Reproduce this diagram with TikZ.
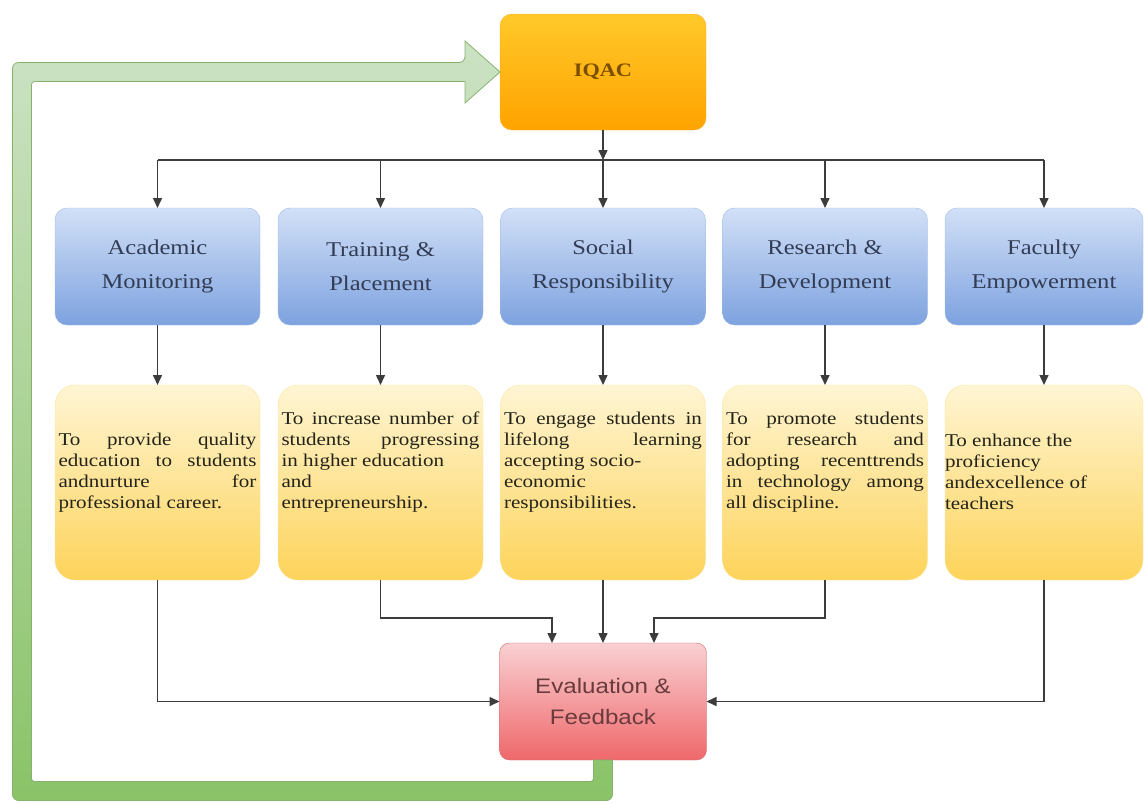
\documentclass[tikz,border=0pt]{standalone}
\usepackage{fontspec}
\usetikzlibrary{arrows.meta,calc}
\setmainfont{Liberation Serif}
\newfontfamily\boxfont[FakeStretch=1.17]{Liberation Serif}
\newfontfamily\evalfont[FakeStretch=1.15]{Liberation Sans}
\hbadness=10000

\definecolor{iqactop}{HTML}{FFC92A}
\definecolor{iqacbot}{HTML}{FFA300}
\definecolor{iqactext}{HTML}{7A4E00}
\definecolor{unittop}{HTML}{D2E0F7}
\definecolor{unitbot}{HTML}{7DA2DF}
\definecolor{unittext}{HTML}{323D55}
\definecolor{goaltop}{HTML}{FEF5D3}
\definecolor{goalbot}{HTML}{FDD35A}
\definecolor{goaltext}{HTML}{23231A}
\definecolor{evaltop}{HTML}{F9D0D2}
\definecolor{evalbot}{HTML}{EF686B}
\definecolor{evaltext}{HTML}{6A3B3D}
\definecolor{feedtop}{HTML}{CCE2C4}
\definecolor{feedmid}{HTML}{B4D6A6}
\definecolor{feedbot}{HTML}{8AC368}
\definecolor{linkgray}{HTML}{3C3C3C}

\newcommand\goaltext[1]{\parbox[c][55pt][b]{198pt}{\boxfont\fontsize{18}{21}\selectfont #1}}

\tikzset{
  headbox/.style={rounded corners=12pt, top color=iqactop, bottom color=iqacbot, draw=iqacbot!85!white,
    minimum width=206pt, minimum height=116pt, text=iqactext, font=\boxfont\bfseries\fontsize{19}{24}\selectfont},
  unitbox/.style={rounded corners=12pt, top color=unittop, bottom color=unitbot, draw=unitbot!75!white,
    minimum width=205pt, minimum height=117pt, align=center, text=unittext, font=\boxfont\fontsize{21}{34}\selectfont},
  goalbox/.style={rounded corners=20pt, top color=goaltop, bottom color=goalbot, draw=goalbot!60!white,
    minimum width=205pt, minimum height=195pt, text=goaltext},
  evalbox/.style={rounded corners=10pt, top color=evaltop, bottom color=evalbot, draw=evalbot!70!gray,
    minimum width=207pt, minimum height=117pt, align=center, text=evaltext, font=\evalfont\fontsize{21}{31}\selectfont},
  link/.style={draw=linkgray, line width=1.5pt},
  linkarrow/.style={link, -{Triangle[length=10pt,width=9pt]}},
  feedarrow/.style={top color=feedtop, middle color=feedmid, bottom color=feedbot, draw=feedbot!75!gray, line width=0.8pt}
}

\begin{document}
\begin{tikzpicture}[y=1pt, x=1pt, yscale=-1, inner sep=0pt, outer sep=0pt]
\useasboundingbox (0,0) rectangle (1145,803);

\node[headbox] (iqac) at (603,72) {IQAC};



\node[unitbox] (acad) at (157.5,266.5) {Academic\\Monitoring};

\node[unitbox] (train) at (380.5,266.5) {Training \&\\Placement};

\node[unitbox] (social) at (603,266.5) {Social\\Responsibility};

\node[unitbox] (research) at (825,266.5) {Research \&\\Development};

\node[unitbox, minimum width=198pt] (fac) at (1044,266.5) {Faculty\\Empowerment};



\node[goalbox] (acadgoal) at (157.5,482.5) {\goaltext{To provide quality\linebreak education to students\linebreak andnurture for\linebreak professional career.}};

\node[goalbox] (traingoal) at (380.5,482.5) {\goaltext{To increase number of\linebreak students progressing\linebreak in higher education\\ and\\ entrepreneurship.}};

\node[goalbox] (socialgoal) at (603,482.5) {\goaltext{To engage students in\linebreak lifelong learning\linebreak accepting socio-\\ economic\\ responsibilities.}};

\node[goalbox] (researchgoal) at (825,482.5) {\goaltext{To promote students\linebreak for research and\linebreak adopting recenttrends\linebreak in technology among\linebreak all discipline.}};

\node[goalbox, minimum width=198pt] (facgoal) at (1044,482.5) {\goaltext{\raggedright To enhance the\\ proficiency\\ andexcellence of\\ teachers}};



\node[evalbox] (eval) at (603,701.5) {Evaluation \&\\Feedback};



% distribution from IQAC
\coordinate (bus) at (603,160);

\path[linkarrow] (iqac.south) -- (iqac.south |- bus);

\path[link] (acad.north |- bus) -- (fac.north |- bus);

\foreach \unit in {acad,train,social,research,fac}
  \path[linkarrow] (\unit.north |- bus) -- (\unit.north);

\foreach \unit in {acad,train,social,research,fac}
  \path[linkarrow] (\unit.south) -- (\unit goal.north);



% collection into evaluation
\path[linkarrow] (acadgoal.south) |- (eval.west);

\path[linkarrow] (facgoal.south) |- (eval.east);

\path[linkarrow] (traingoal.south) -- ++(0,38) -| ($(eval.north)+(-51,0)$);

\path[linkarrow] (socialgoal.south) -- (eval.north);

\path[linkarrow] (researchgoal.south) -- ++(0,38) -| ($(eval.north)+(51,0)$);



% feedback loop
\coordinate (fbstart) at (eval.south);
\coordinate (fbcorner) at (22,791);
\coordinate (fbtip) at (iqac.west);

\path[feedarrow] ($(fbstart)+(9.5,0)$) [rounded corners=6pt] -- ($(fbstart |- fbcorner)+(9.5,9.5)$) -- ($(fbcorner)+(-9.5,9.5)$)
  -- ($(fbcorner |- fbtip)+(-9.5,-9.5)$) -- ($(fbtip)+(-35,-9.5)$) [sharp corners] -- ($(fbtip)+(-35,-31)$) -- (fbtip)
  -- ($(fbtip)+(-35,31)$) -- ($(fbtip)+(-35,9.5)$) [rounded corners=3pt] -- ($(fbcorner |- fbtip)+(9.5,9.5)$)
  -- ($(fbcorner)+(9.5,-9.5)$) -- ($(fbstart |- fbcorner)+(-9.5,-9.5)$) [sharp corners] -- ($(fbstart)+(-9.5,0)$) -- cycle;

\end{tikzpicture}
\end{document}
